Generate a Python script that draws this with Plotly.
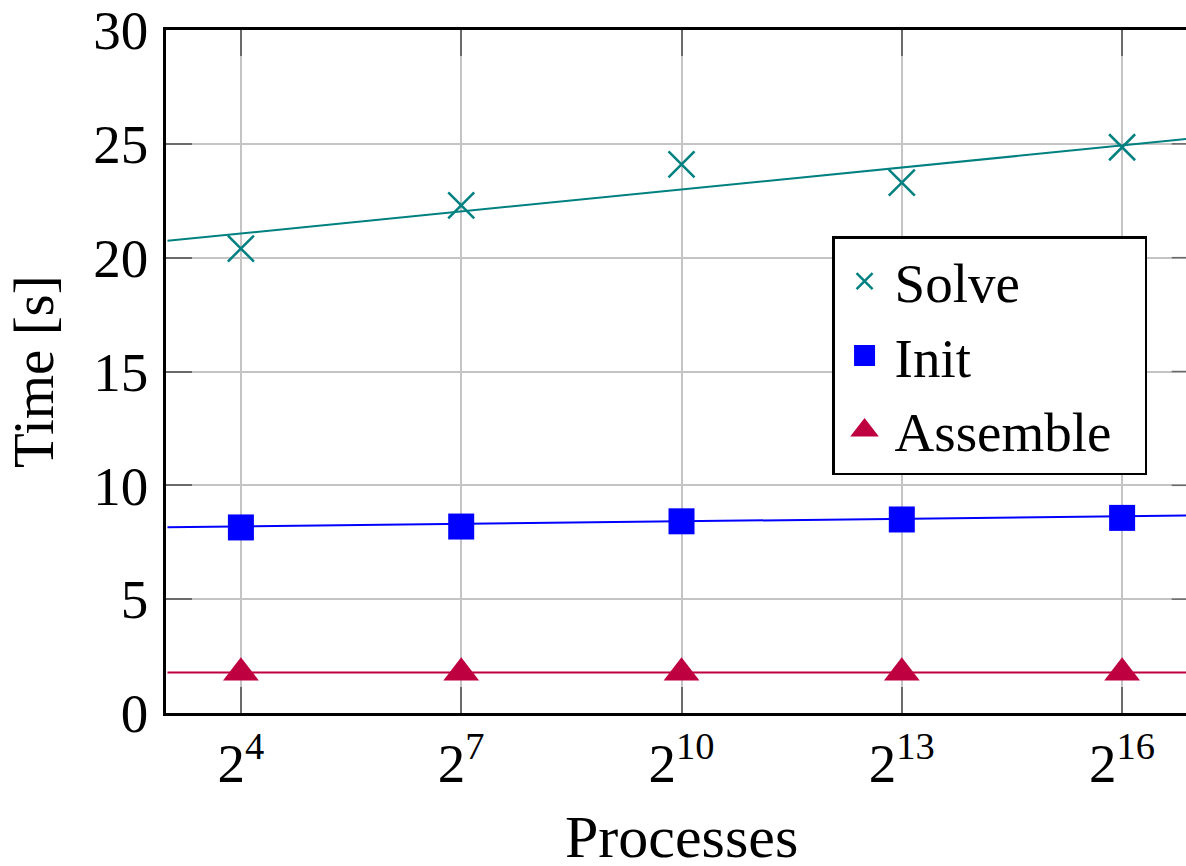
import math
import plotly.graph_objects as go

# ---- data ----
processes = [16, 128, 1024, 8192, 65536]
tick_labels = ["2<sup>4</sup>", "2<sup>7</sup>", "2<sup>10</sup>", "2<sup>13</sup>", "2<sup>16</sup>"]
solve = [20.4, 22.3, 24.1, 23.3, 24.85]
init = [8.15, 8.19, 8.42, 8.5, 8.57]
assemble = [1.77, 1.77, 1.77, 1.77, 1.77]

fit_x = [8, 131072]
solve_fit = [20.74, 25.25]
init_fit = [8.16, 8.68]
assemble_fit = [1.78, 1.78]

y_ticks = [0, 5, 10, 15, 20, 25, 30]
series_names = ["Solve", "Init", "Assemble"]

TEAL = "#008080"
BLUE = "#0000FF"
PURPLE = "#BF0040"
FONT = "Liberation Serif"
GRID = "#c4c4c4"
TICKC = "#6a6a6a"

fig = go.Figure()

# trend lines
for fy, col in [(solve_fit, TEAL), (init_fit, BLUE), (assemble_fit, PURPLE)]:
    fig.add_trace(go.Scatter(x=fit_x, y=fy, mode="lines",
                             line=dict(color=col, width=2), showlegend=False,
                             hoverinfo="skip"))

# data markers
fig.add_trace(go.Scatter(x=processes, y=solve, mode="markers", name=series_names[0],
                         marker=dict(symbol="x-thin", size=26, color=TEAL,
                                     line=dict(color=TEAL, width=2.5)),
                         showlegend=False))
fig.add_trace(go.Scatter(x=processes, y=init, mode="markers", name=series_names[1],
                         marker=dict(symbol="square", size=26, color=BLUE,
                                     line=dict(width=0)),
                         showlegend=False))
fig.add_trace(go.Scatter(x=processes, y=assemble, mode="markers", name=series_names[2],
                         marker=dict(symbol="triangle-up", size=31, color=PURPLE,
                                     line=dict(width=0)),
                         showlegend=False))

# legend-only entries (no drawn marks)
fig.add_trace(go.Scatter(x=[None], y=[None], mode="markers", name=series_names[0],
                         marker=dict(symbol="x-thin", size=16, color=TEAL,
                                     line=dict(color=TEAL, width=2.5))))
fig.add_trace(go.Scatter(x=[None], y=[None], mode="markers", name=series_names[1],
                         marker=dict(symbol="square", size=16, color=BLUE,
                                     line=dict(color=BLUE, width=5))))
fig.add_trace(go.Scatter(x=[None], y=[None], mode="markers",
                         name=series_names[2] + "\u2002",
                         marker=dict(symbol="triangle-up", size=16, color=PURPLE,
                                     line=dict(color=PURPLE, width=5))))

L2 = math.log10(2)
x_left = 2.98
x_right = 16.87

# partial right-side ticks (right axis is cut off at the window edge)
shapes = []
for v in y_ticks[1:-1]:
    shapes.append(dict(type="line", xref="paper", yref="y", x0=0.986, x1=1.0,
                       y0=v, y1=v, line=dict(color=TICKC, width=1.5), layer="above"))

fig.update_layout(
    width=1186, height=866,
    margin=dict(l=166, r=0, t=28, b=153),
    paper_bgcolor="white", plot_bgcolor="white",
    font=dict(family=FONT, size=55, color="black"),
    shapes=shapes,
    xaxis=dict(type="log", range=[x_left * L2, x_right * L2],
               tickvals=processes, ticktext=tick_labels,
               ticks="inside", ticklen=26, tickwidth=1.5, tickcolor=TICKC,
               showline=True, linecolor="black", linewidth=2.5, mirror="ticks",
               showgrid=True, gridcolor=GRID, gridwidth=2, zeroline=False,
               ticklabeloverflow="allow",
               tickfont=dict(family=FONT, size=55, color="black")),
    yaxis=dict(range=[0, 30.0001], tickvals=y_ticks,
               ticks="inside", ticklen=26, tickwidth=1.5, tickcolor=TICKC,
               showline=True, linecolor="black", linewidth=2.5, mirror=False,
               showgrid=True, gridcolor=GRID, gridwidth=2, zeroline=False,
               ticklabelstandoff=4, ticklabeloverflow="allow",
               tickfont=dict(family=FONT, size=55, color="black")),
    legend=dict(x=0.653, xanchor="left", y=0.698, yanchor="top",
                bgcolor="white", bordercolor="black", borderwidth=2.5,
                font=dict(family=FONT, size=55, color="black"),
                itemwidth=50, itemsizing="trace"),
    annotations=[
        dict(text="Processes", xref="paper", yref="paper", x=0.505, y=-0.181,
             xanchor="center", yanchor="middle", showarrow=False,
             font=dict(family=FONT, size=60, color="black")),
        dict(text="Time [s]", xref="paper", yref="paper", x=-0.13, y=0.5,
             xanchor="center", yanchor="middle", textangle=-90, showarrow=False,
             font=dict(family=FONT, size=57, color="black")),
    ],
)

fig.write_html("out.html", config={"displayModeBar": False},
               post_script="document.body.style.margin='0';document.body.style.overflow='hidden';")
